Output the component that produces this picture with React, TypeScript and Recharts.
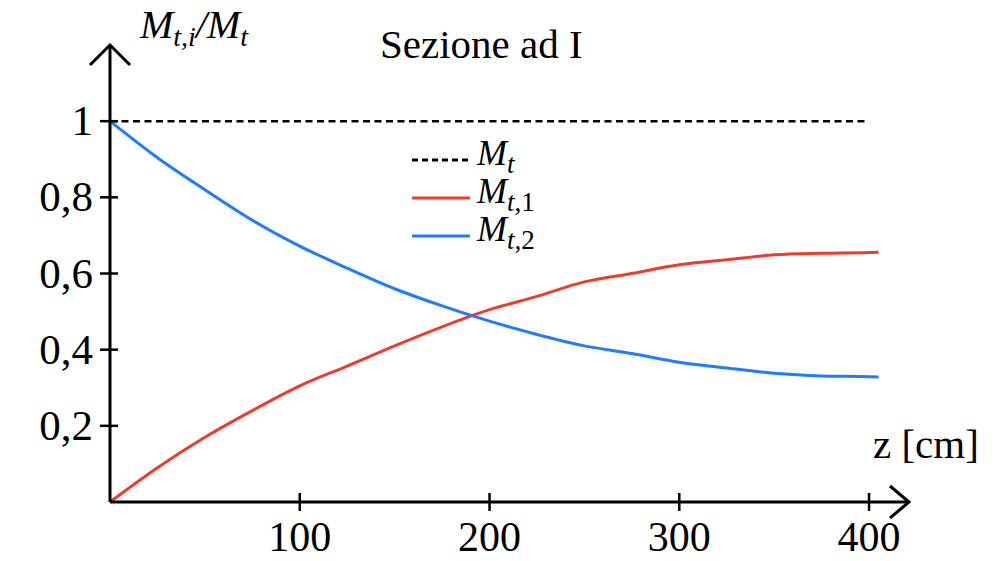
import { LineChart, Line, XAxis, YAxis } from 'recharts'

const Z_CM = [0, 25, 50, 75, 100, 125, 150, 175, 200, 225, 250, 275, 300, 325, 350, 375, 400, 405]
const MT = [1, 1, 1, 1, 1, 1, 1, 1, 1, 1, 1, 1, 1, 1, 1, 1, 1, null]
const MT1 = [0, 0.09, 0.17, 0.24, 0.305, 0.357, 0.41, 0.46, 0.505, 0.54, 0.578, 0.6, 0.623, 0.636, 0.649, 0.653, 0.655, 0.656]
const MT2 = [1, 0.904, 0.82, 0.74, 0.672, 0.614, 0.56, 0.515, 0.475, 0.44, 0.41, 0.39, 0.367, 0.352, 0.338, 0.331, 0.329, 0.328]
const X_TICKS = [100, 200, 300, 400]
const Y_TICKS = [0.2, 0.4, 0.6, 0.8, 1]

const SERIF = '"Liberation Serif", serif'
const RED = '#ee3b2e'
const BLUE = '#1f7bff'

const data = Z_CM.map((z, i) => ({ z, mt: MT[i], mt1: MT1[i], mt2: MT2[i] }))

function XTick({ x, y, payload }: any) {
  return (
    <g>
      <line x1={x} x2={x} y1={y - 9} y2={y + 9} stroke="#000" strokeWidth={2.5} />
      <text x={x} y={y + 49} textAnchor="middle" fontFamily={SERIF} fontSize={42} fill="#000">{payload.value}</text>
    </g>
  )
}

function YTick({ x, y, payload }: any) {
  return (
    <g>
      <line x1={x - 10} x2={x + 8} y1={y} y2={y} stroke="#000" strokeWidth={2.5} />
      <text x={x - 17} y={y + 14} textAnchor="end" fontFamily={SERIF} fontSize={43} fill="#000">
        {String(payload.value).replace('.', ',')}
      </text>
    </g>
  )
}

function XArrow({ viewBox }: any) {
  const tx = viewBox.x + viewBox.width + 2
  const ty = viewBox.y
  return (
    <g>
      <polyline points={`${tx - 19},${ty - 16} ${tx},${ty} ${tx - 19},${ty + 16}`} fill="none" stroke="#000" strokeWidth={3} />
      <text x={tx - 36} y={ty - 44} fontFamily={SERIF} fontSize={41} fill="#000">z [cm]</text>
    </g>
  )
}

function YArrow({ viewBox }: any) {
  const tx = viewBox.x + viewBox.width
  const ty = viewBox.y
  return (
    <g>
      <polyline points={`${tx - 20},${ty + 20} ${tx},${ty} ${tx + 20},${ty + 20}`} fill="none" stroke="#000" strokeWidth={3} />
      <text x={tx + 30} y={ty - 7} fontFamily={SERIF} fontSize={40} fontStyle="italic" fill="#000">
        M<tspan fontSize={28} dy={8}>t,i</tspan><tspan dy={-8}>/M</tspan><tspan fontSize={28} dy={8}>t</tspan>
      </text>
    </g>
  )
}

const LEGEND = [
  { key: 'mt', sub: '', color: '#000', dash: '6 4' },
  { key: 'mt1', sub: ',1', color: RED, dash: undefined },
  { key: 'mt2', sub: ',2', color: BLUE, dash: undefined },
]

function LegendBox() {
  return (
    <div style={{ position: 'absolute', left: 412, top: 141, fontFamily: SERIF }}>
      {LEGEND.map((d) => (
        <div key={d.key} style={{ display: 'flex', alignItems: 'center', height: 38 }}>
          <svg width={58} height={6}>
            <line x1={0} x2={58} y1={3} y2={3} stroke={d.color} strokeWidth={3} strokeDasharray={d.dash} />
          </svg>
          <span style={{ fontStyle: 'italic', fontSize: 36, marginLeft: 7, lineHeight: 1, position: 'relative', top: -4 }}>
            M<sub style={{ fontSize: 27, verticalAlign: -8 }}>t<span style={{ fontStyle: 'normal' }}>{d.sub}</span></sub>
          </span>
        </div>
      ))}
    </div>
  )
}

export default function App() {
  return (
    <div style={{ position: 'absolute', left: 0, top: 0, width: 1005, height: 561, background: '#fff' }}>
      <div style={{ position: 'absolute', left: 380, top: 24, fontFamily: SERIF, fontSize: 41, lineHeight: 1 }}>Sezione ad I</div>
      <LineChart width={1005} height={561} data={data} margin={{ top: 45, right: 98, bottom: 0, left: 50 }}>
        <XAxis
          dataKey="z"
          type="number"
          domain={[0, 420]}
          ticks={X_TICKS}
          height={59}
          tickSize={0}
          tickMargin={0}
          tick={XTick}
          axisLine={{ stroke: '#000', strokeWidth: 3 }}
          label={{ content: XArrow }}
        />
        <YAxis
          type="number"
          domain={[0, 1.2]}
          ticks={Y_TICKS}
          width={60}
          tickSize={0}
          tickMargin={0}
          tick={YTick}
          axisLine={{ stroke: '#000', strokeWidth: 3 }}
          label={{ content: YArrow }}
        />
        <Line dataKey="mt" stroke="#000" strokeWidth={2.5} strokeDasharray="7 4.5" dot={false} isAnimationActive={false} />
        <Line dataKey="mt1" type="monotone" stroke={RED} strokeWidth={3} dot={false} isAnimationActive={false} />
        <Line dataKey="mt2" type="monotone" stroke={BLUE} strokeWidth={3} dot={false} isAnimationActive={false} />
      </LineChart>
      <LegendBox />
    </div>
  )
}
